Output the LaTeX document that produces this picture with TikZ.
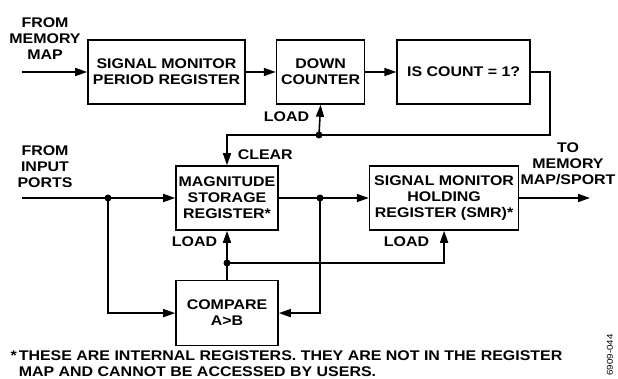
\documentclass[tikz,border=0pt]{standalone}
\usepackage{fontspec}
\setmainfont{Liberation Sans}[FakeStretch=1.14]
\usetikzlibrary{arrows.meta,positioning}

\begin{document}
\begin{tikzpicture}[x=1pt,y=-1pt,line width=1.6pt,font=\bfseries\fontsize{14}{16}\selectfont,node distance=30pt,
        >={Triangle[length=12pt,width=8pt]},
        box/.style={draw,align=center,minimum height=64pt,inner sep=2pt},
        lbl/.style={inner sep=0pt,align=center},
        dot/.style={circle,fill,inner sep=0pt,minimum size=7pt}]
        \useasboundingbox (0,0) rectangle (618,379);
        \node[box,minimum width=157pt] (smpr) at (166.5,72) {SIGNAL MONITOR\\PERIOD REGISTER};
        \node[box,minimum width=88pt,right=of smpr] (dc) {DOWN\\COUNTER};
        \node[box,minimum width=133pt,right=31pt of dc] (cnt) {IS COUNT = 1?};
        \node[box,minimum width=102pt] (msr) at (227,198) {MAGNITUDE\\STORAGE\\REGISTER*};
        \node[box,minimum width=102pt,minimum height=65pt,below=49pt of msr] (cmp) {COMPARE\\A>B};
        \node[box,minimum width=149pt,right=90pt of msr] (smhr) {SIGNAL MONITOR\\HOLDING\\REGISTER (SMR)*};
        \node[lbl,anchor=north] (frmem) at (45,17) {FROM\\MEMORY\\MAP};
        \node[lbl,anchor=north] (frin) at (45,145) {FROM\\INPUT\\PORTS};
        \node[lbl,anchor=north] (tomem) at (568,142) {TO\\MEMORY\\MAP/SPORT};
        \node[lbl,anchor=east] (ldc) at (310,117) {LOAD};
        \node[lbl,anchor=west] (clr) at (237,155) {CLEAR};
        \node[lbl,anchor=east] (lmsr) at (218,242) {LOAD};
        \node[lbl,anchor=east] (lsmhr) at (430,242) {LOAD};
        \node[lbl,anchor=north west,align=left] (note) at (18,350) {\llap{*\hspace{2pt}}THESE ARE INTERNAL REGISTERS. THEY ARE NOT IN THE REGISTER\\MAP AND CANNOT BE ACCESSED BY USERS.};
        \node[lbl,rotate=90,font=\fontsize{8.5}{10}\selectfont] (fig) at (610,355) {6909-044};
        \coordinate (inm) at (22,72);
        \coordinate (inp) at (22,198);
        \coordinate (out) at (590,198);
        \coordinate (j1) at (319,135);
        \coordinate (j2) at (108,198);
        \coordinate (j3) at (320,198);
        \coordinate (j4) at (227,263);
        \draw[->] (inm) -- (smpr); \draw[->] (smpr) -- (dc); \draw[->] (dc) -- (cnt);
        \draw[->] (cnt.east) -- ++(19,0) |- (j1) -| (msr.north);
        \draw[->] (j1) -- (dc.south);
        \draw[->] (inp) -- (msr); \draw[->] (j2) |- (cmp.west);
        \draw[->] (msr) -- (smhr); \draw[->] (j3) |- (cmp.east);
        \draw[->] (cmp) -- (msr); \draw[->] (j4) -| (smhr.south);
        \draw[->] (smhr) -- (out);
        \foreach \j in {j1,j2,j3,j4} \node[dot] (d\j) at (\j) {};
      \end{tikzpicture}
\end{document}
